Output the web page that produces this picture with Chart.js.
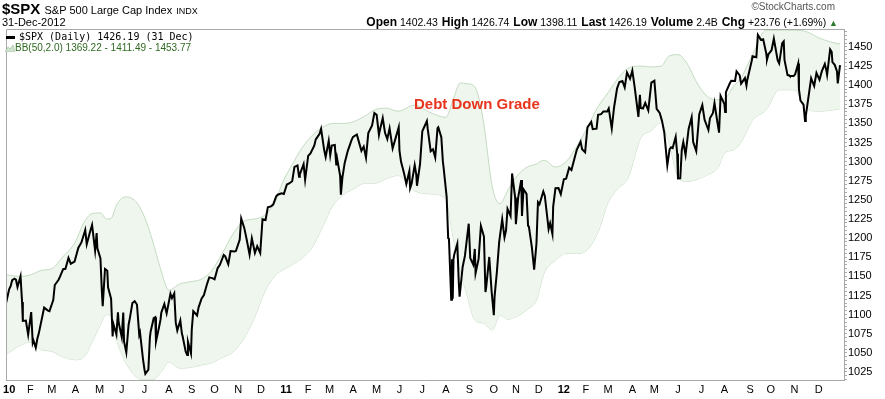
<!DOCTYPE html>
<html><head><meta charset="utf-8">
<script src="https://cdn.jsdelivr.net/npm/chart.js@4.4.1/dist/chart.umd.min.js"></script>
<style>
html,body{margin:0;padding:0;background:#fff;}
#wrap{position:relative;width:885px;height:399px;overflow:hidden;font-family:"Liberation Sans",Arial,sans-serif;color:#000;}
canvas{position:absolute;left:0;top:0;}
.t{position:absolute;white-space:nowrap;line-height:1;}
.hd b{font-size:12px;margin-left:1px;}
</style></head><body>
<div id="wrap">
<canvas id="c" width="885" height="399"></canvas>
<div class="t" style="left:2px;top:1px;font-size:15px;font-weight:bold;">$SPX <span style="font-size:11px;font-weight:normal">S&amp;P 500 Large Cap Index</span> <span style="font-size:9px;font-weight:normal">INDX</span></div>
<div class="t" style="left:2px;top:17px;font-size:11px;">31-Dec-2012</div>
<div class="t" style="right:50px;top:2px;font-size:10px;color:#555;">©StockCharts.com</div>
<div class="t hd" style="right:47px;top:16px;font-size:10.5px;"><b style="margin-left:0">Open</b> 1402.43 <b>High</b> 1426.74 <b>Low</b> 1398.11 <b>Last</b> 1426.19 <b>Volume</b> 2.4B <b>Chg</b> +23.76 (+1.69%) <span style="color:#2e7d2e;font-size:9px">▲</span></div>
<div class="t" style="left:6px;top:32px;font-size:10px;font-family:'DejaVu Sans Mono',monospace;"><span style="display:inline-block;width:9px;height:3px;background:#000;vertical-align:middle;margin-right:4px"></span>$SPX (Daily) 1426.19 (31 Dec)</div>
<div class="t" style="left:5px;top:43px;font-size:10px;color:#2d6a1f;"><svg width="10" height="8" style="vertical-align:-1px"><polygon points="0,8 3,3 5,5 8,1 10,8" fill="#cfe3cd" stroke="#9cbf98" stroke-width="0.6"/></svg>BB(50,2.0) 1369.22 - 1411.49 - 1453.77</div>
<div class="t" style="left:414px;top:96px;font-size:15px;font-weight:bold;color:#e8341c;">Debt Down Grade</div>
</div>
<script>
// ---- DATA ----
const spx2009 = [["12-31",1115.10]];
const spx2010 = [["01-04",1132.99],["01-06",1137.14],["01-08",1144.98],["01-11",1146.98],["01-13",1145.68],["01-15",1136.03],["01-19",1150.23],["01-21",1116.48],["01-22",1091.76],["01-26",1092.17],["01-29",1073.87],
["02-02",1103.32],["02-04",1063.11],["02-05",1066.19],["02-08",1056.74],["02-10",1068.13],["02-12",1075.51],["02-17",1099.51],["02-19",1109.17],["02-24",1105.24],["02-26",1104.49],
["03-03",1119.00],["03-05",1138.70],["03-10",1145.61],["03-12",1149.99],["03-16",1159.46],["03-19",1159.90],["03-23",1174.17],["03-26",1166.59],["03-31",1169.43],
["04-05",1187.44],["04-09",1194.37],["04-14",1210.65],["04-16",1192.13],["04-20",1207.17],["04-23",1217.28],["04-27",1183.71],["04-29",1206.78],["04-30",1186.69],
["05-04",1173.60],["05-06",1128.15],["05-07",1110.88],["05-10",1159.73],["05-13",1157.44],["05-14",1135.68],["05-18",1120.80],["05-20",1071.59],["05-21",1087.69],["05-25",1074.03],["05-27",1103.06],["05-28",1089.41],
["06-01",1070.71],["06-03",1102.83],["06-04",1064.88],["06-07",1050.47],["06-10",1086.84],["06-11",1091.60],["06-15",1115.23],["06-18",1117.51],["06-21",1113.20],["06-24",1073.69],["06-25",1076.76],["06-29",1041.24],
["07-01",1027.37],["07-02",1022.58],["07-06",1028.06],["07-08",1070.25],["07-09",1077.96],["07-13",1095.34],["07-15",1096.48],["07-16",1064.88],["07-20",1083.48],["07-22",1093.67],["07-23",1102.66],["07-27",1113.84],["07-30",1101.60],
["08-04",1127.24],["08-06",1121.64],["08-09",1127.79],["08-11",1089.47],["08-13",1079.25],["08-17",1092.54],["08-19",1075.63],["08-20",1071.69],["08-24",1051.87],["08-26",1047.22],["08-27",1064.59],["08-31",1049.33],
["09-01",1080.29],["09-03",1104.51],["09-08",1098.87],["09-10",1109.55],["09-14",1121.10],["09-17",1125.59],["09-21",1139.78],["09-24",1148.67],["09-28",1147.70],
["10-01",1146.24],["10-05",1160.75],["10-08",1165.15],["10-13",1178.10],["10-15",1176.19],["10-19",1165.90],["10-22",1183.08],["10-27",1182.45],["10-29",1183.26],
["11-03",1197.96],["11-05",1225.85],["11-09",1213.40],["11-12",1199.21],["11-16",1178.34],["11-19",1199.73],["11-23",1180.73],["11-26",1189.40],["11-30",1180.55],
["12-03",1224.71],["12-07",1223.75],["12-10",1240.40],["12-14",1241.59],["12-17",1243.91],["12-21",1254.60],["12-23",1256.77],["12-28",1258.51],["12-31",1257.64]];

const spx2011 = [["01-04",1270.20],["01-07",1271.50],["01-11",1274.48],["01-14",1293.24],["01-18",1295.02],["01-20",1280.26],["01-21",1283.35],["01-26",1296.63],["01-28",1276.34],
["02-01",1307.59],["02-04",1310.87],["02-09",1320.88],["02-11",1329.15],["02-16",1336.32],["02-18",1343.01],["02-22",1315.44],["02-24",1306.10],["02-28",1327.22],
["03-02",1308.44],["03-04",1321.15],["03-08",1321.82],["03-10",1295.11],["03-11",1304.28],["03-15",1281.87],["03-16",1256.88],["03-18",1279.21],["03-21",1298.38],["03-25",1313.80],["03-30",1328.26],
["04-01",1332.41],["04-06",1335.54],["04-08",1328.17],["04-12",1314.16],["04-15",1319.68],["04-18",1305.14],["04-21",1337.38],["04-26",1347.24],["04-29",1363.61],
["05-02",1361.22],["05-05",1335.10],["05-06",1340.20],["05-10",1357.16],["05-13",1337.77],["05-16",1329.47],["05-19",1343.60],["05-23",1317.37],["05-27",1331.10],["05-31",1345.20],
["06-01",1314.55],["06-03",1300.16],["06-07",1284.94],["06-10",1270.98],["06-14",1287.87],["06-15",1265.42],["06-17",1271.50],["06-21",1295.52],["06-23",1283.50],["06-24",1268.45],["06-28",1296.67],
["07-01",1339.67],["07-07",1353.22],["07-08",1343.80],["07-12",1313.64],["07-15",1316.14],["07-18",1305.44],["07-21",1343.80],["07-22",1345.02],["07-26",1331.94],["07-28",1300.67],["07-29",1292.28],
["08-02",1254.05],["08-04",1200.07],["08-05",1199.38],["08-08",1119.46],["08-09",1172.53],["08-10",1120.76],["08-11",1172.64],["08-12",1178.81],["08-16",1192.76],["08-18",1140.65],["08-19",1123.53],["08-23",1162.35],["08-26",1176.80],["08-31",1218.89],
["09-02",1173.97],["09-06",1165.24],["09-08",1185.90],["09-09",1154.23],["09-13",1172.87],["09-16",1216.01],["09-20",1202.09],["09-22",1129.56],["09-23",1136.43],["09-27",1175.38],["09-30",1131.42],
["10-03",1099.23],["10-04",1123.95],["10-07",1155.46],["10-10",1194.89],["10-14",1224.58],["10-17",1200.86],["10-19",1209.88],["10-21",1238.25],["10-25",1229.05],["10-27",1284.59],["10-31",1253.30],
["11-01",1218.28],["11-04",1253.23],["11-08",1275.92],["11-09",1229.10],["11-11",1263.85],["11-15",1257.81],["11-17",1216.13],["11-18",1215.65],["11-22",1188.04],["11-25",1158.67],["11-28",1192.55],["11-30",1246.96],
["12-02",1244.28],["12-07",1261.01],["12-09",1255.19],["12-14",1211.82],["12-16",1219.66],["12-19",1205.35],["12-20",1241.30],["12-23",1265.33],["12-27",1265.43],["12-30",1257.60]];

const spx2012 = [["01-03",1277.06],["01-06",1277.81],["01-10",1292.08],["01-13",1289.09],["01-18",1308.04],["01-20",1315.38],["01-25",1326.06],["01-27",1316.33],["01-31",1312.41],
["02-03",1344.90],["02-08",1351.95],["02-10",1342.64],["02-15",1343.23],["02-17",1361.23],["02-21",1362.21],["02-24",1365.74],["02-29",1365.68],
["03-02",1369.63],["03-06",1343.36],["03-09",1370.87],["03-13",1395.95],["03-16",1404.17],["03-20",1405.52],["03-23",1397.11],["03-26",1416.51],["03-30",1408.47],
["04-02",1419.04],["04-05",1398.08],["04-10",1358.59],["04-12",1387.57],["04-13",1370.26],["04-16",1369.57],["04-19",1376.92],["04-23",1366.94],["04-27",1403.36],
["05-01",1405.82],["05-04",1369.10],["05-08",1363.72],["05-11",1353.39],["05-14",1338.35],["05-18",1295.22],["05-21",1315.99],["05-23",1318.86],["05-25",1317.82],["05-29",1332.42],["05-31",1310.33],
["06-01",1278.04],["06-04",1278.18],["06-06",1315.13],["06-08",1325.66],["06-11",1308.93],["06-15",1342.84],["06-19",1357.98],["06-21",1325.51],["06-25",1313.72],["06-29",1362.16],
["07-03",1374.02],["07-06",1354.68],["07-11",1341.45],["07-13",1356.78],["07-17",1363.67],["07-19",1376.51],["07-23",1350.52],["07-25",1337.89],["07-27",1385.97],
["08-01",1375.32],["08-02",1365.00],["08-03",1390.99],["08-08",1402.22],["08-10",1405.87],["08-15",1405.53],["08-17",1418.16],["08-21",1413.17],["08-23",1402.08],["08-28",1409.30],["08-30",1399.48],["08-31",1406.58],
["09-06",1432.12],["09-07",1437.92],["09-12",1436.56],["09-14",1465.77],["09-18",1459.32],["09-21",1460.15],["09-25",1441.59],["09-26",1433.32],["09-28",1440.67],
["10-02",1445.75],["10-05",1460.93],["10-10",1432.84],["10-12",1428.59],["10-16",1454.92],["10-18",1457.34],["10-19",1433.19],["10-23",1413.11],["10-25",1412.97],["10-26",1411.94],["10-31",1412.16],
["11-02",1414.20],["11-06",1428.39],["11-07",1394.53],["11-09",1379.85],["11-13",1374.53],["11-15",1353.33],["11-16",1359.88],["11-20",1387.89],["11-23",1409.15],["11-27",1398.94],["11-30",1416.18],
["12-04",1407.05],["12-07",1418.07],["12-11",1427.84],["12-13",1419.45],["12-14",1413.58],["12-18",1446.79],["12-20",1443.69],["12-21",1430.15],["12-24",1426.66],["12-27",1418.10],["12-28",1402.43],["12-31",1426.19]];

// Bollinger Bands (50,2.0)
const bandDates = ["2009-12-31","2010-01-19","2010-02-01","2010-02-16","2010-03-01","2010-03-15","2010-04-01","2010-04-12","2010-04-23","2010-05-04","2010-05-12","2010-05-18","2010-05-26","2010-06-07","2010-06-21","2010-07-02","2010-07-12","2010-07-22","2010-08-02","2010-08-16","2010-08-30","2010-09-13","2010-09-27","2010-10-11","2010-10-25","2010-11-08","2010-11-22","2010-12-06","2010-12-20","2010-12-29",
"2011-01-12","2011-01-24","2011-02-07","2011-02-20","2011-03-05","2011-03-18","2011-04-01","2011-04-17","2011-04-30","2011-05-15","2011-05-30","2011-06-21","2011-07-10","2011-08-01","2011-08-10","2011-08-20","2011-08-29","2011-09-08","2011-09-19","2011-10-01","2011-10-11","2011-10-21","2011-11-03","2011-11-16","2011-11-28","2011-12-08","2011-12-23",
"2012-01-06","2012-01-20","2012-02-03","2012-02-17","2012-03-01","2012-03-15","2012-03-27","2012-04-13","2012-04-26","2012-05-10","2012-05-20","2012-06-01","2012-06-12","2012-06-26","2012-07-10","2012-07-24","2012-08-01","2012-08-14","2012-08-22","2012-09-07","2012-09-25","2012-10-12","2012-11-01","2012-11-17","2012-12-03","2012-12-17","2012-12-31"];
const bbUpper = [1152,1150,1152,1158,1160,1175,1195,1220,1232,1233,1225,1226,1245,1254,1246,1225,1195,1160,1132,1140,1143,1146,1157,1180,1205,1222,1225,1230,1248,1272,
1298,1318,1335,1345,1350,1350,1352,1360,1368,1370,1366,1374,1365,1358,1380,1403,1402,1398,1355,1267,1245,1262,1282,1293,1297,1302,1293,
1300,1320,1345,1372,1390,1410,1422,1425,1424,1425,1438,1440,1430,1403,1385,1381,1382,1400,1408,1440,1472,1472,1472,1470,1462,1457,1453.77];
const bbMiddle = [1100,1105,1108,1106,1106,1110,1118,1132,1148,1160,1163,1162,1155,1145,1132,1120,1105,1092,1085,1085,1087,1090,1097,1112,1128,1145,1160,1180,1200,1215,
1232,1246,1262,1280,1296,1302,1308,1316,1320,1324,1324,1318,1310,1304,1292,1280,1262,1245,1222,1173,1172,1178,1190,1200,1208,1228,1232,
1240,1250,1265,1290,1318,1338,1350,1378,1382,1388,1382,1360,1352,1340,1334,1337,1346,1358,1366,1397,1420,1433,1433,1420,1414,1412,1411.49];
const bbLower = [1048,1060,1064,1054,1052,1045,1041,1044,1064,1087,1100,1098,1065,1036,1018,1015,1015,1024,1038,1030,1031,1034,1037,1044,1051,1068,1095,1130,1152,1158,
1166,1174,1189,1215,1242,1256,1264,1272,1272,1278,1282,1262,1258,1252,1204,1157,1125,1093,1089,1080,1099,1094,1098,1107,1119,1154,1171,
1180,1180,1185,1208,1246,1266,1278,1331,1340,1351,1326,1280,1274,1277,1283,1293,1311,1316,1324,1354,1368,1394,1394,1370,1366,1367,1369.22];

// Axis ticks
const monthTickDates = ["2010-01-04","2010-02-01","2010-03-01","2010-04-01","2010-05-03","2010-06-01","2010-07-01","2010-08-02","2010-09-01","2010-10-01","2010-11-01","2010-12-01",
"2011-01-03","2011-02-01","2011-03-01","2011-04-01","2011-05-02","2011-06-01","2011-07-01","2011-08-01","2011-09-01","2011-10-03","2011-11-01","2011-12-01",
"2012-01-03","2012-02-01","2012-03-01","2012-04-02","2012-05-01","2012-06-01","2012-07-02","2012-08-01","2012-09-04","2012-10-01","2012-11-01","2012-12-03"];
const monthTickLabels = ["10","F","M","A","M","J","J","A","S","O","N","D","11","F","M","A","M","J","J","A","S","O","N","D","12","F","M","A","M","J","J","A","S","O","N","D"];
const yTickLabels = [1025,1050,1075,1100,1125,1150,1175,1200,1225,1250,1275,1300,1325,1350,1375,1400,1425,1450];

// ---- BUILD ----
const T0 = Date.UTC(2010,0,4);
function dayOf(s){ const p = s.split('-').map(Number); return (Date.UTC(p[0],p[1]-1,p[2]) - T0)/864e5; }
const pricePts = [];
[[2009,spx2009],[2010,spx2010],[2011,spx2011],[2012,spx2012]].forEach(([yr,arr]) => arr.forEach(([md,v]) => pricePts.push({x:dayOf(yr+'-'+md), y:v})));
const bandX = bandDates.map(dayOf);
const up = bandX.map((x,i)=>({x, y:bbUpper[i]}));
const mid = bandX.map((x,i)=>({x, y:bbMiddle[i]}));
const lo = bandX.map((x,i)=>({x, y:bbLower[i]}));
const monthX = monthTickDates.map(dayOf);
const minor = [];
for (let v = 1015; v <= 1470; v += 5) minor.push(v);

const frame = {
  id:'frame',
  afterDraw(chart){
    const {ctx, chartArea:a} = chart;
    ctx.save();
    ctx.strokeStyle = '#a8a8a8'; ctx.lineWidth = 1;
    ctx.beginPath();
    ctx.moveTo(Math.round(a.left)+0.5, Math.round(a.bottom));
    ctx.lineTo(Math.round(a.left)+0.5, Math.round(a.top)+0.5);
    ctx.lineTo(Math.round(a.right), Math.round(a.top)+0.5);
    ctx.stroke();
    ctx.restore();
  }
};

new Chart(document.getElementById('c'), {
  type:'line',
  data:{ datasets:[
    {data:pricePts, borderColor:'#000', borderWidth:2, pointRadius:0, tension:0, fill:false},
    {data:up, borderColor:'#c4dbc2', borderWidth:1, pointRadius:0, tension:0.4, cubicInterpolationMode:'monotone', fill:'+1', backgroundColor:'#eef6ed'},
    {data:lo, borderColor:'#c4dbc2', borderWidth:1, pointRadius:0, tension:0.4, cubicInterpolationMode:'monotone', fill:false},
    {data:mid, borderColor:'#b5c8b3', borderWidth:1, borderDash:[2,2], pointRadius:0, tension:0.4, cubicInterpolationMode:'monotone', fill:false}
  ]},
  options:{
    responsive:false, animation:false, events:[],
    layout:{padding:{left:4, top:29, right:0, bottom:0}},
    plugins:{legend:{display:false}, tooltip:{enabled:false}},
    scales:{
      x:{ type:'linear', min:-4, max:1097.2,
        afterBuildTicks:s=>{ s.ticks = monthX.map(v=>({value:v})); },
        afterFit:s=>{ s.height = 19; },
        grid:{display:false, drawTicks:false}, border:{display:true, color:'#a8a8a8'},
        ticks:{ autoSkip:false, maxRotation:0, padding:3, color:'#000',
          callback:(v,i)=>monthTickLabels[i],
          font:(c)=>({family:'Liberation Sans', size:11, weight: /^\d/.test(monthTickLabels[c.index]||'') ? 'bold':'normal'}) }
      },
      y:{ type:'linear', position:'right', min:1014.5, max:1473.5,
        afterBuildTicks:s=>{ s.ticks = minor.map(v=>({value:v})); },
        afterFit:s=>{ s.width = 41; },
        grid:{drawOnChartArea:false, drawTicks:true, tickLength:3, color:'#a8a8a8'},
        border:{display:true, color:'#a8a8a8'},
        ticks:{ autoSkip:false, padding:1, color:'#000', font:{family:'Liberation Sans', size:11},
          callback:(v)=> yTickLabels.includes(v) ? String(v) : '' }
      }
    }
  },
  plugins:[frame]
});
</script>
</body></html>
